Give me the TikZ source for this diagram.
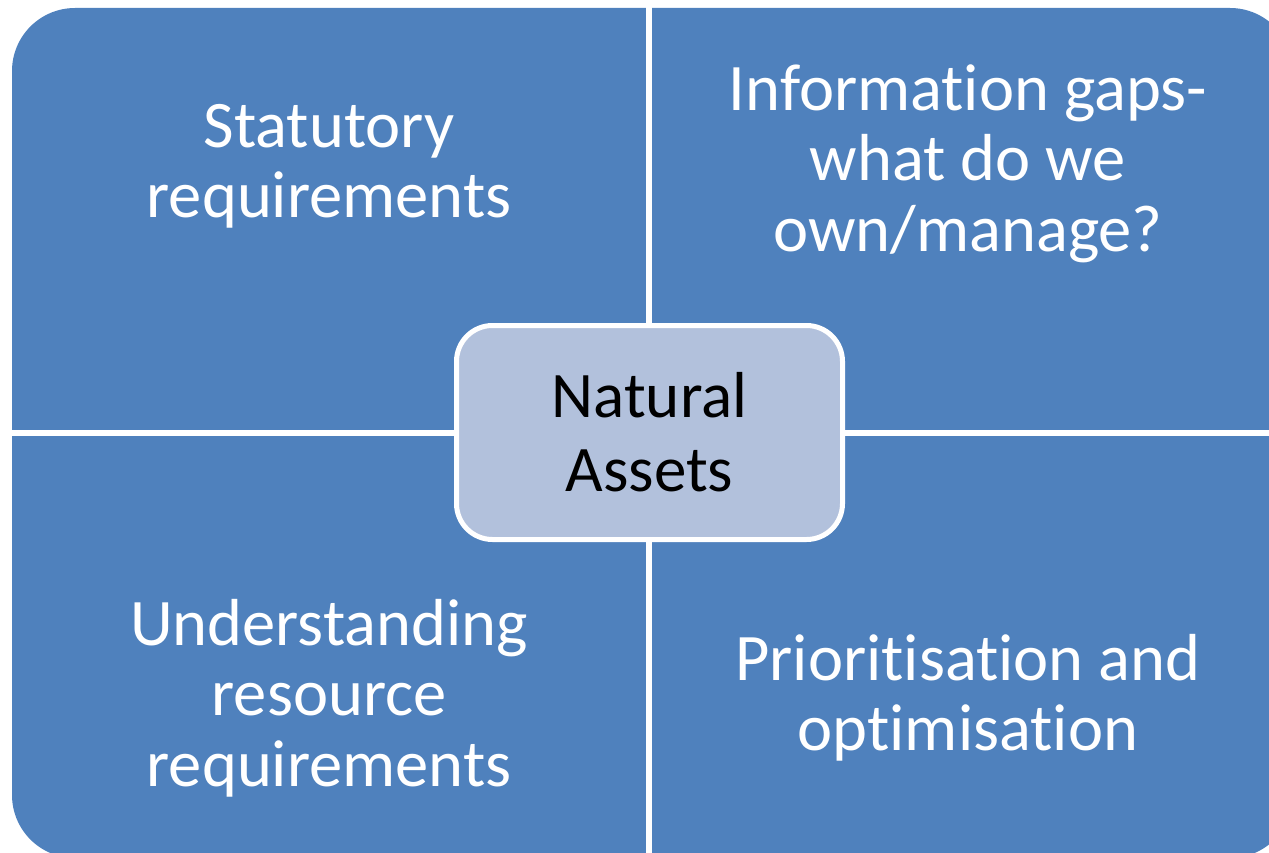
\documentclass[tikz,border=0pt]{standalone}
\usepackage{fontspec}
\setmainfont{Carlito}[RawFeature={-liga}]
\definecolor{quadblue}{RGB}{79,129,189}
\definecolor{centerfill}{RGB}{178,193,220}
\begin{document}
\begin{tikzpicture}[x=1pt,y=-1pt,
  lbl/.style={text=white, align=center, inner sep=0pt, anchor=north,
    font=\fontsize{66.5}{70.5}\selectfont},
  hub/.style={draw=white, line width=5pt, fill=centerfill, rounded corners=36pt,
    minimum width=386pt, minimum height=214pt, inner sep=0pt, align=center,
    text=black, font=\fontsize{65}{74}\selectfont},
  gap/.style={white, line width=6pt}]
\useasboundingbox (0,0) rectangle (1269,853);
\begin{scope}
  \clip (0,0) rectangle (1269,853);
  \fill[quadblue, rounded corners=63pt] (12,8) rectangle (1293,858);
  \draw[gap] (649,0) -- (649,860);
  \draw[gap] (0,433) -- (1300,433);
\end{scope}
\node[hub] (hub) at (649.5,432.5) {Natural\\Assets};
\node[lbl] (tl) at (329,92) {\rule{0pt}{55pt}Statutory\\requirements};
\node[lbl] (tr) at (968,55) {\rule{0pt}{55pt}Information gaps-\\what do we\\own/manage?};
\node[lbl] (bl) at (329,590) {\rule{0pt}{55pt}Understanding\\resource\\requirements};
\node[lbl] (br) at (968,625) {\rule{0pt}{55pt}Prioritisation and\\optimisation};
\end{tikzpicture}
\end{document}
